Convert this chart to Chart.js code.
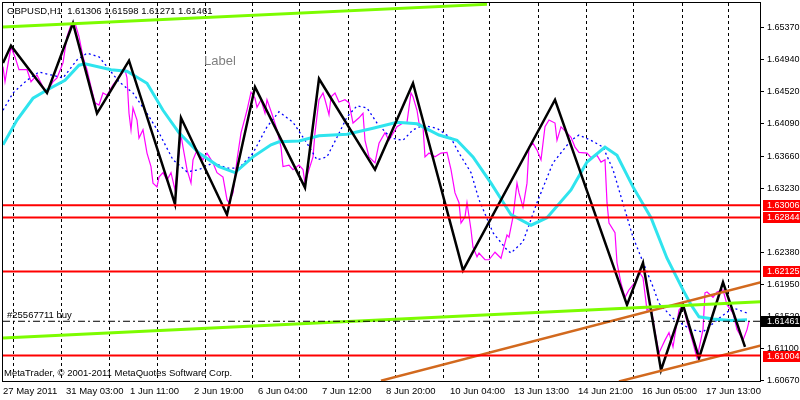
<!DOCTYPE html>
<html lang="en">
<head>
<meta charset="utf-8" />
<title>GBPUSD,H1</title>
<style>
  html, body { margin: 0; padding: 0; background: #ffffff; }
  #chart { display: block; }
</style>
</head>
<body>
<canvas id="chart" width="800" height="400"></canvas>
<script src="https://cdn.jsdelivr.net/npm/chart.js"></script>
<script>
// H1 bars counted from the left edge of the window, prices
var closeBars = [0, 1, 2, 4, 6, 8, 12, 14, 17, 20, 22, 25, 27, 30, 32, 34, 36, 38, 40, 42, 44, 46, 48, 50, 52, 55, 58, 61, 62, 63,
  64, 65, 67, 68, 70, 72, 74, 75, 77, 78, 80, 82, 84, 86, 88, 89, 90, 92, 94, 95, 97, 100, 102, 105, 107, 110, 112, 113, 115, 117,
  119, 121, 122, 124, 126, 127, 129, 131, 132, 135, 137, 139, 140, 143, 145, 148, 150, 151, 153, 155, 156, 158, 160, 161, 163, 164,
  166, 168, 171, 173, 175, 178, 180, 181, 183, 186, 188, 191, 193, 197, 200, 202, 204, 205, 207, 208, 210, 211, 213, 216, 219, 222,
  224, 226, 228, 229, 231, 232, 234, 235, 237, 238, 241, 243, 246, 249, 252, 253, 255, 257, 258, 260, 262, 263, 265, 267, 269, 271,
  273, 276, 277, 279, 282, 284, 286, 288, 292, 294, 297, 299, 301, 302, 303, 306, 307, 309, 311, 313, 316, 318, 320, 322, 324, 326,
  328, 331, 333, 335, 337, 338, 340, 342, 345, 347, 350, 351, 352, 355, 357, 360, 362, 365, 367, 370, 372, 373];
var closePrices = [1.6485, 1.6465, 1.6481, 1.6511, 1.6498, 1.6481, 1.6481, 1.6465, 1.6474, 1.6458, 1.6451, 1.6465, 1.6470, 1.6490,
  1.6525, 1.6541, 1.6543, 1.6525, 1.6498, 1.6481, 1.6458, 1.6437, 1.6434, 1.6450, 1.6447, 1.6461, 1.6471, 1.6481, 1.6470, 1.6423,
  1.6401, 1.6430, 1.6414, 1.6390, 1.6401, 1.6370, 1.6352, 1.6330, 1.6325, 1.6338, 1.6344, 1.6334, 1.6344, 1.6321, 1.6370, 1.6394,
  1.6378, 1.6348, 1.6330, 1.6361, 1.6374, 1.6361, 1.6370, 1.6357, 1.6344, 1.6338, 1.6308, 1.6304, 1.6317, 1.6361, 1.6397, 1.6417,
  1.6427, 1.6451, 1.6443, 1.6431, 1.6441, 1.6423, 1.6441, 1.6418, 1.6401, 1.6378, 1.6352, 1.6354, 1.6348, 1.6354, 1.6348, 1.6330,
  1.6348, 1.6365, 1.6397, 1.6441, 1.6450, 1.6441, 1.6421, 1.6445, 1.6450, 1.6438, 1.6441, 1.6437, 1.6410, 1.6417, 1.6423, 1.6387,
  1.6365, 1.6357, 1.6383, 1.6397, 1.6387, 1.6405, 1.6410, 1.6411, 1.6450, 1.6445, 1.6427, 1.6410, 1.6405, 1.6365, 1.6370, 1.6365,
  1.6370, 1.6371, 1.6348, 1.6317, 1.6304, 1.6277, 1.6285, 1.6304, 1.6268, 1.6245, 1.6232, 1.6237, 1.6228, 1.6228, 1.6238, 1.6230,
  1.6261, 1.6258, 1.6285, 1.6330, 1.6317, 1.6298, 1.6330, 1.6378, 1.6383, 1.6374, 1.6361, 1.6405, 1.6414, 1.6410, 1.6387, 1.6405,
  1.6397, 1.6391, 1.6378, 1.6371, 1.6370, 1.6364, 1.6367, 1.6358, 1.6361, 1.6304, 1.6277, 1.6264, 1.6224, 1.6197, 1.6178, 1.6188,
  1.6198, 1.6212, 1.6204, 1.6161, 1.6165, 1.6132, 1.6104, 1.6121, 1.6131, 1.6112, 1.6145, 1.6161, 1.6168, 1.6145, 1.6117, 1.6097,
  1.6135, 1.6184, 1.6185, 1.6178, 1.6185, 1.6188, 1.6168, 1.6157, 1.6135, 1.6121, 1.6135, 1.6146];

var zigzagBars = [0, 4, 22, 35, 47, 63, 86, 89, 112, 126, 151, 158, 186, 205, 230, 276, 312, 320, 329, 340, 348, 360, 371];
var zigzagPrices = [1.6490, 1.6513, 1.6450, 1.6543, 1.6423, 1.6493, 1.6302, 1.6417, 1.6288, 1.6458, 1.6324, 1.6469, 1.6348,
  1.6463, 1.6214, 1.6441, 1.6168, 1.6224, 1.6081, 1.6168, 1.6097, 1.6198, 1.6112];

var slowMaBars = [0, 7, 15, 22, 31, 38, 41, 54, 62, 72, 80, 88, 98, 108, 116, 125, 134, 138, 148, 158, 172, 185, 197, 207, 218,
  227, 235, 244, 254, 264, 272, 284, 292, 301, 307, 315, 324, 332, 340, 344, 348, 355, 364, 372];
var slowMaPrices = [1.6381, 1.6414, 1.6443, 1.6454, 1.6467, 1.6487, 1.6489, 1.6481, 1.6479, 1.6463, 1.6427, 1.6397, 1.6370,
  1.6352, 1.6344, 1.6365, 1.6381, 1.6385, 1.6386, 1.6393, 1.6395, 1.6403, 1.6411, 1.6409, 1.6394, 1.6387, 1.6365, 1.6330, 1.6288,
  1.6274, 1.6284, 1.6321, 1.6358, 1.6378, 1.6367, 1.6325, 1.6284, 1.6230, 1.6188, 1.6168, 1.6152, 1.6149, 1.6147, 1.6148];

var fastMaBars = [0, 5, 12, 18, 24, 30, 37, 42, 48, 52, 58, 65, 72, 78, 85, 92, 98, 105, 112, 118, 125, 132, 138, 145, 152, 157,
  162, 167, 172, 177, 182, 187, 194, 200, 205, 210, 217, 224, 228, 234, 238, 245, 252, 254, 260, 267, 275, 284, 288, 294, 300,
  305, 308, 315, 320, 325, 328, 335, 344, 350, 358, 365, 372];
var fastMaPrices = [1.6427, 1.6450, 1.6467, 1.6478, 1.6474, 1.6470, 1.6494, 1.6503, 1.6498, 1.6485, 1.6465, 1.6450, 1.6423,
  1.6397, 1.6361, 1.6345, 1.6348, 1.6357, 1.6350, 1.6350, 1.6370, 1.6405, 1.6425, 1.6411, 1.6383, 1.6361, 1.6365, 1.6391, 1.6418,
  1.6433, 1.6430, 1.6410, 1.6390, 1.6387, 1.6401, 1.6407, 1.6403, 1.6390, 1.6370, 1.6344, 1.6308, 1.6264, 1.6241, 1.6237, 1.6252,
  1.6304, 1.6357, 1.6387, 1.6394, 1.6387, 1.6378, 1.6348, 1.6321, 1.6258, 1.6225, 1.6192, 1.6170, 1.6150, 1.6135, 1.6132, 1.6150,
  1.6164, 1.6157];

// trend lines (two anchor points each)
var channelTopBars = [0, 242];
var channelTopPrices = [1.6538, 1.6568];
var channelBottomBars = [0, 379];
var channelBottomPrices = [1.6124, 1.6172];
var trendUpperBars = [189, 379];
var trendUpperPrices = [1.6067, 1.6198];
var trendLowerBars = [308, 379];
var trendLowerPrices = [1.6066, 1.6114];

// horizontal lines
var levelPrices = [1.63006, 1.62844, 1.62125, 1.61004];
var orderPrice = 1.61461;

// axes
var priceTicks = [1.65370, 1.64940, 1.64520, 1.64090, 1.63660, 1.63230, 1.62380, 1.61950, 1.61520, 1.61100, 1.60670];
var timeTickBars = [0, 31.5, 63.5, 95.5, 127.5, 159.5, 191.5, 223.5, 255.5, 287.5, 319.5, 351.5];
var timeTickLabels = ['27 May 2011', '31 May 03:00', '1 Jun 11:00', '2 Jun 19:00', '6 Jun 04:00', '7 Jun 12:00',
  '8 Jun 20:00', '10 Jun 04:00', '13 Jun 13:00', '14 Jun 21:00', '16 Jun 05:00', '17 Jun 13:00'];
var daySeparatorBars = [5, 29, 53, 77, 101, 124.5, 148, 172.5, 196, 220, 243, 267.5, 291.5, 315, 339.5, 362.5];

var header = 'GBPUSD,H1  1.61306 1.61598 1.61271 1.61461';

function points(bars, prices) {
    return bars.map(function (b, i) { return { x: b, y: prices[i] }; });
}

function flat(price) {
    return [{ x: 0, y: price }, { x: 379, y: price }];
}

function line(data, color, width, order, dash) {
    return {
        data: data,
        borderColor: color,
        borderWidth: width,
        borderDash: dash || [],
        pointRadius: 0,
        tension: 0,
        fill: false,
        order: order
    };
}

var datasets = [
    line(points(closeBars, closePrices), '#ff00ff', 1.2, 7),
    line(points(fastMaBars, fastMaPrices), '#0000ff', 1.3, 6, [2, 3]),
    line(points(slowMaBars, slowMaPrices), '#2fe4ee', 3, 5),
    line(points(zigzagBars, zigzagPrices), '#000000', 2.5, 4),
    line(points(channelTopBars, channelTopPrices), '#7cfc00', 3, 3),
    line(points(channelBottomBars, channelBottomPrices), '#7cfc00', 3, 3),
    line(points(trendUpperBars, trendUpperPrices), '#d2691e', 2.5, 3),
    line(points(trendLowerBars, trendLowerPrices), '#d2691e', 2.5, 3)
];
levelPrices.forEach(function (p) {
    datasets.push(line(flat(p), '#ff0000', 2, 2));
});
datasets.push(line(flat(orderPrice), '#000000', 1, 1, [7, 3, 2, 3]));

var overlay = {
    id: 'overlay',
    afterDraw: function (chart) {
        var ctx = chart.ctx;
        var a = chart.chartArea;
        var ys = chart.scales.y;
        ctx.save();
        ctx.strokeStyle = '#000000';
        ctx.lineWidth = 1;
        ctx.strokeRect(a.left - 0.5, a.top - 0.5, a.right - a.left, a.bottom - a.top + 1);

        ctx.font = '9px "Liberation Sans"';
        ctx.textBaseline = 'middle';
        ctx.textAlign = 'left';
        levelPrices.forEach(function (p) {
            var py = Math.round(ys.getPixelForValue(p));
            ctx.fillStyle = '#ff0000';
            ctx.fillRect(a.right + 2, py - 5, 800 - a.right - 2, 11);
            ctx.fillStyle = '#ffffff';
            ctx.fillText(p.toFixed(5), a.right + 6, py + 0.5);
        });
        var oy = Math.round(ys.getPixelForValue(orderPrice));
        ctx.fillStyle = '#000000';
        ctx.fillRect(a.right, oy - 5, 800 - a.right, 11);
        ctx.fillStyle = '#ffffff';
        ctx.fillText(orderPrice.toFixed(5), a.right + 6, oy + 0.5);

        ctx.font = '9.5px "Liberation Sans"';
        ctx.fillStyle = '#000000';
        ctx.fillText(header, a.left + 4, a.top + 8);
        ctx.fillText('#25567711 buy', a.left + 4, oy - 6);
        ctx.fillText('MetaTrader, \u00a9 2001-2011 MetaQuotes Software Corp.', a.left + 1, a.bottom - 8);

        ctx.font = '13px "Liberation Sans"';
        ctx.fillStyle = '#7f7f7f';
        ctx.fillText('Label', 204, 61);
        ctx.restore();
    }
};

new Chart(document.getElementById('chart'), {
    type: 'line',
    data: { datasets: datasets },
    options: {
        responsive: false,
        animation: false,
        devicePixelRatio: 1,
        events: [],
        layout: { padding: { left: 3, top: 3, right: 0, bottom: 0 } },
        plugins: { legend: { display: false }, tooltip: { enabled: false } },
        scales: {
            x: {
                type: 'linear',
                position: 'bottom',
                min: 0,
                max: 379,
                grid: { display: false, drawTicks: false },
                border: { display: false },
                afterBuildTicks: function (scale) {
                    scale.ticks = timeTickBars.map(function (b) { return { value: b }; });
                },
                afterFit: function (scale) {
                    scale.height = 19;
                    scale.paddingLeft = 0;
                    scale.paddingRight = 0;
                },
                ticks: {
                    autoSkip: false,
                    maxRotation: 0,
                    minRotation: 0,
                    align: 'start',
                    padding: 5,
                    color: '#000000',
                    font: { family: 'Liberation Sans', size: 9.5 },
                    callback: function (value) {
                        var k = timeTickBars.indexOf(value);
                        return k >= 0 ? timeTickLabels[k] : '';
                    }
                }
            },
            days: {
                type: 'linear',
                position: 'bottom',
                min: 0,
                max: 379,
                grid: { color: '#000000', lineWidth: 1, drawTicks: false, borderDash: [3, 3] },
                border: { display: false, dash: [3, 3] },
                ticks: { display: false },
                afterBuildTicks: function (scale) {
                    scale.ticks = daySeparatorBars.map(function (b) { return { value: b }; });
                },
                afterFit: function (scale) {
                    scale.height = 0;
                    scale.paddingLeft = 0;
                    scale.paddingRight = 0;
                }
            },
            y: {
                type: 'linear',
                position: 'right',
                min: 1.60666,
                max: 1.65698,
                grid: { drawOnChartArea: false, drawTicks: true, tickLength: 3, color: '#000000' },
                border: { display: false },
                afterBuildTicks: function (scale) {
                    scale.ticks = priceTicks.map(function (p) { return { value: p }; });
                },
                afterFit: function (scale) {
                    scale.width = 39;
                    scale.paddingTop = 0;
                    scale.paddingBottom = 0;
                },
                ticks: {
                    padding: 3,
                    color: '#000000',
                    font: { family: 'Liberation Sans', size: 9 },
                    callback: function (value) { return value.toFixed(5); }
                }
            }
        }
    },
    plugins: [overlay]
});
</script>
</body>
</html>
